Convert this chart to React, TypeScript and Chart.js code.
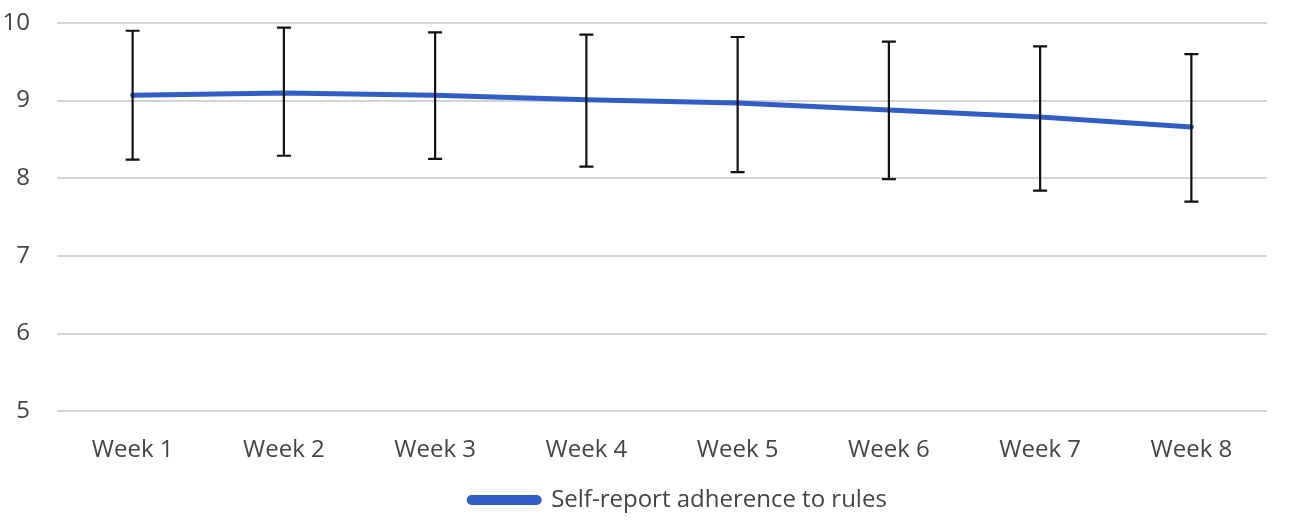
import { Chart, registerables, type ChartConfiguration, type Plugin } from "chart.js";
import { useEffect, useRef } from "react";

Chart.register(...registerables);

const weeks = ["Week 1", "Week 2", "Week 3", "Week 4", "Week 5", "Week 6", "Week 7", "Week 8"];
const adherence = [9.07, 9.1, 9.07, 9.01, 8.97, 8.88, 8.79, 8.66];
const errorUp = [0.83, 0.84, 0.81, 0.84, 0.85, 0.88, 0.91, 0.94];
const errorDown = [0.83, 0.81, 0.82, 0.86, 0.89, 0.89, 0.95, 0.96];
const yTicks = [5, 6, 7, 8, 9, 10];

const lineBlue = "#2f5fc6";
const textGrey = "#444444";
const font = { family: "Open Sans", size: 24 };

// draws the vertical error bars with caps, through the chart's own scales
const errorBars: Plugin<"line"> = {
  id: "errorBars",
  afterDatasetsDraw(chart) {
    const { ctx, scales } = chart;
    const x = scales.x;
    const y = scales.y;
    ctx.save();
    ctx.strokeStyle = "#111111";
    ctx.lineWidth = 2.2;
    adherence.forEach((v, i) => {
      const px = x.getPixelForValue(i);
      const top = y.getPixelForValue(v + errorUp[i]);
      const bottom = y.getPixelForValue(v - errorDown[i]);
      ctx.beginPath();
      ctx.moveTo(px, top);
      ctx.lineTo(px, bottom);
      ctx.moveTo(px - 7, top);
      ctx.lineTo(px + 7, top);
      ctx.moveTo(px - 7, bottom);
      ctx.lineTo(px + 7, bottom);
      ctx.stroke();
    });
    ctx.restore();
  },
};

// the legend sits a bit right of the canvas centre in the original
const legendShift: Plugin<"line"> = {
  id: "legendShift",
  beforeDraw(chart) {
    const legend = chart.legend;
    if (legend) {
      legend.left += 43;
      legend.right += 43;
    }
  },
};

const config: ChartConfiguration<"line"> = {
  type: "line",
  data: {
    labels: weeks,
    datasets: [
      {
        label: "Self-report adherence to rules",
        data: adherence,
        borderColor: lineBlue,
        backgroundColor: lineBlue,
        borderWidth: 5,
        borderCapStyle: "round",
        pointRadius: 0,
        tension: 0,
      },
    ],
  },
  options: {
    animation: false,
    responsive: false,
    layout: { padding: { top: 0, left: 3, right: 32, bottom: 0 } },
    scales: {
      x: {
        offset: true,
        grid: { display: false },
        border: { display: false },
        ticks: { color: textGrey, font, padding: 17 },
      },
      y: {
        min: 5,
        max: 10,
        afterBuildTicks: (axis) => {
          axis.ticks = yTicks.map((value) => ({ value }));
        },
        afterFit: (axis) => {
          axis.width = 54;
          axis.paddingTop = 23;
        },
        grid: { color: "#d4d4d4", lineWidth: 2, drawTicks: false },
        border: { display: false },
        ticks: { color: textGrey, font, padding: 27 },
      },
    },
    plugins: {
      legend: {
        position: "bottom",
        labels: {
          color: textGrey,
          font,
          boxWidth: 70,
          boxHeight: 5,
          useBorderRadius: true,
          borderRadius: 2.5,
          padding: 6,
        },
      },
      tooltip: { enabled: false },
    },
  },
  plugins: [errorBars, legendShift],
};

export default function App() {
  const canvasRef = useRef<HTMLCanvasElement>(null);

  useEffect(() => {
    document.body.style.margin = "0";
    if (!canvasRef.current) {
      return undefined;
    }
    const chart = new Chart(canvasRef.current, config);
    return () => chart.destroy();
  }, []);

  return (
    <div style={{ width: 1299, height: 522, background: "#ffffff" }}>
      <canvas ref={canvasRef} width={1299} height={522} style={{ width: 1299, height: 522 }} />
    </div>
  );
}
